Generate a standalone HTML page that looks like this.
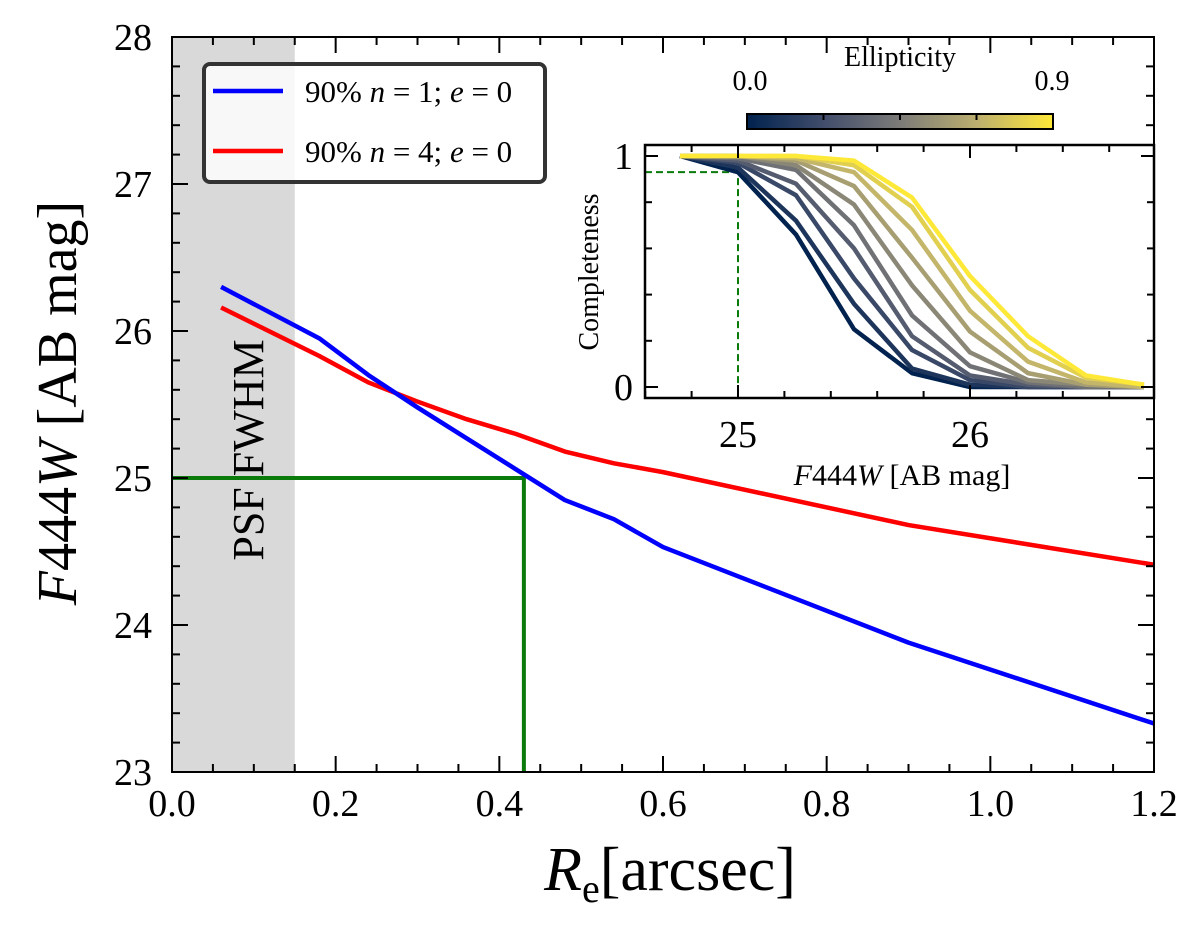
<!DOCTYPE html>
<html><head><meta charset="utf-8"><style>
body{margin:0;background:#fff;}
svg text{font-family:"Liberation Serif",serif;fill:#000;}
</style></head><body>
<svg id="chart" width="1200" height="940" xmlns="http://www.w3.org/2000/svg">
<g id="main"></g>
<g id="inset"></g>
</svg>
<script>
const NS="http://www.w3.org/2000/svg";
// main chart data
const reArcsec=[0.06,0.18,0.24,0.30,0.36,0.42,0.48,0.54,0.60,0.90,1.20];
const magN1=[26.30,25.95,25.70,25.48,25.27,25.06,24.85,24.72,24.53,23.88,23.33];
const magN4=[26.16,25.83,25.65,25.52,25.40,25.30,25.18,25.10,25.04,24.68,24.41];
const xTicks=[0.0,0.2,0.4,0.6,0.8,1.0,1.2];
const yTicks=[23,24,25,26,27,28];
const psfFwhm=0.15;
const limitMag=25, limitRe=0.43;
// inset data
const insetMag=[24.75,25.0,25.25,25.5,25.75,26.0,26.25,26.5,26.75];
const ellipticities=[0,0.1,0.2,0.3,0.4,0.5,0.6,0.7,0.8,0.9];
const comp0=[1,0.93,0.66,0.25,0.06,0,0,0,0];
const comp1=[1,0.95,0.72,0.36,0.08,0.01,0,0,0];
const comp2=[1,0.97,0.83,0.47,0.16,0.03,0,0,0];
const comp3=[1,0.98,0.88,0.60,0.22,0.05,0.01,0,0];
const comp4=[1,0.99,0.94,0.70,0.31,0.09,0.02,0,0];
const comp5=[1,1,0.96,0.79,0.44,0.15,0.03,0.01,0];
const comp6=[1,1,0.98,0.87,0.56,0.24,0.06,0.01,0];
const comp7=[1,1,0.99,0.93,0.68,0.33,0.11,0.02,0];
const comp8=[1,1,1,0.96,0.78,0.42,0.17,0.04,0.01];
const comp9=[1,1,1,0.98,0.82,0.48,0.22,0.05,0.01];
const completeness=[comp0,comp1,comp2,comp3,comp4,comp5,comp6,comp7,comp8,comp9];

function mk(tag,attrs,parent){const e=document.createElementNS(NS,tag);for(const k in attrs)e.setAttribute(k,attrs[k]);parent.appendChild(e);return e;}
const main=document.getElementById('main'), inset=document.getElementById('inset');
const L=172,R=1154,T=37,B=772;
const X=v=>L+(v-0)/1.2*(R-L);
const Y=v=>B-(v-23)/5*(B-T);

let e;
e=mk('rect',{x:L,y:T,width:X(psfFwhm)-L,height:B-T,fill:'#d9d9d9'},main);


e=mk('text',{x:0,y:0,'font-size':44,'text-anchor':'middle',transform:`translate(263,450) rotate(-90)`},main);
e.textContent='PSF FWHM';


e=mk('polyline',{points:`${L},${Y(limitMag)} ${X(limitRe)},${Y(limitMag)} ${X(limitRe)},${B}`,fill:'none',stroke:'#0a7a0a','stroke-width':4},main);


function line(xs,ys,col,name,fx,fy,parent,w){const p=xs.map((x,i)=>fx(x)+','+fy(ys[i])).join(' ');const el=mk('polyline',{points:p,fill:'none',stroke:col,'stroke-width':w,'stroke-linejoin':'round'},parent);return el;}
line(reArcsec,magN4,'#ff0000','line-n4',X,Y,main,4.5);
line(reArcsec,magN1,'#0000ff','line-n1',X,Y,main,4.5);
for(let i=0;i<=24;i++){const v=i*0.05;const len=(i%4==0)?16:8;
 mk('line',{x1:X(v),x2:X(v),y1:B,y2:B-len,stroke:'#000','stroke-width':2},main);
 mk('line',{x1:X(v),x2:X(v),y1:T,y2:T+len,stroke:'#000','stroke-width':2},main);}
for(let i=0;i<=25;i++){const v=23+i*0.2;const len=(i%5==0)?16:8;
 mk('line',{x1:L,x2:L+len,y1:Y(v),y2:Y(v),stroke:'#000','stroke-width':2},main);
 mk('line',{x1:R,x2:R-len,y1:Y(v),y2:Y(v),stroke:'#000','stroke-width':2},main);}
xTicks.forEach(v=>{const t=mk('text',{x:X(v),y:B+44,'font-size':38,'text-anchor':'middle'},main);t.textContent=v.toFixed(1);});
yTicks.forEach(v=>{const t=mk('text',{x:L-20,y:Y(v)+13,'font-size':38,'text-anchor':'end'},main);t.textContent=v;});
e=mk('rect',{x:L,y:T,width:R-L,height:B-T,fill:'none',stroke:'#000','stroke-width':2},main);

e=mk('text',{x:670,y:890,'font-size':62,'text-anchor':'middle'},main);
e.innerHTML='<tspan font-style="italic">R</tspan><tspan font-size="40" dy="12">e</tspan><tspan dy="-12">[arcsec]</tspan>';

e=mk('text',{x:0,y:0,'font-size':56,'text-anchor':'middle',transform:'translate(76,403) rotate(-90)'},main);
e.innerHTML='<tspan font-style="italic">F</tspan>444<tspan font-style="italic">W</tspan> [AB mag]';

e=mk('rect',{x:204,y:64,width:341,height:118,rx:6,fill:'rgba(255,255,255,0.8)',stroke:'#333','stroke-width':4},main);

[['#0000ff','1',91],['#ff0000','4',151]].forEach(([c,n,y])=>{
 mk('line',{x1:213,x2:283,y1:y,y2:y,stroke:c,'stroke-width':4.5},main);
 const t=mk('text',{x:305,y:y+11,'font-size':31},main);
 t.innerHTML=`90% <tspan font-style="italic">n</tspan> = ${n}; <tspan font-style="italic">e</tspan> = 0`;
 });
const iL=645,iR=1154,iT=145,iB=398;
const IX=v=>738+(v-25)*232;
const IY=v=>387-v*231;
mk('rect',{x:iL,y:iT,width:iR-iL,height:iB-iT,fill:'#fff'},inset);
const cividis=[[0,[0,34,78]],[0.25,[65,77,107]],[0.5,[124,123,120]],[0.75,[188,175,111]],[1,[254,232,56]]];
function cmap(t){for(let i=0;i<cividis.length-1;i++){const [a,ca]=cividis[i],[b,cb]=cividis[i+1];if(t<=b){const f=(t-a)/(b-a);return 'rgb('+ca.map((c,j)=>Math.round(c+(cb[j]-c)*f)).join(',')+')';}}return 'rgb(254,232,56)';}
mk('polyline',{points:`${iL},${IY(0.93)} ${IX(25)},${IY(0.93)} ${IX(25)},${IY(0)}`,fill:'none',stroke:'#0a7a0a','stroke-width':2,'stroke-dasharray':'7,4'},inset);
completeness.forEach((c,i)=>line(insetMag,c,cmap(ellipticities[i]/0.9),'completeness-e'+ellipticities[i],IX,IY,inset,4.5));
for(let i=0;i<=10;i++){const v=24.6+i*0.2;const x=IX(v);if(x<iL||x>iR)continue;const len=(Math.abs(v-Math.round(v))<0.01)?13:7;
 mk('line',{x1:x,x2:x,y1:iB,y2:iB-len,stroke:'#000','stroke-width':2},inset);
 mk('line',{x1:x,x2:x,y1:iT,y2:iT+len,stroke:'#000','stroke-width':2},inset);}
for(let i=0;i<=5;i++){const v=i*0.2;const len=(i==0||i==5)?13:7;
 mk('line',{x1:iL,x2:iL+len,y1:IY(v),y2:IY(v),stroke:'#000','stroke-width':2},inset);
 mk('line',{x1:iR,x2:iR-len,y1:IY(v),y2:IY(v),stroke:'#000','stroke-width':2},inset);}
mk('rect',{x:iL,y:iT,width:iR-iL,height:iB-iT,fill:'none',stroke:'#000','stroke-width':2.5},inset);
[25,26].forEach(v=>{const t=mk('text',{x:IX(v),y:447,'font-size':38,'text-anchor':'middle'},inset);t.textContent=v;});
[[1,'1'],[0,'0']].forEach(([v,s])=>{const t=mk('text',{x:iL-12,y:IY(v)+13,'font-size':38,'text-anchor':'end'},inset);t.textContent=s;});
e=mk('text',{x:902,y:485,'font-size':30,'text-anchor':'middle'},inset);
e.innerHTML='<tspan font-style="italic">F</tspan>444<tspan font-style="italic">W</tspan> [AB mag]';

e=mk('text',{x:0,y:0,'font-size':28,'text-anchor':'middle',transform:'translate(598,272) rotate(-90)'},inset);
e.textContent='Completeness';

const defs=mk('defs',{},inset);const g=mk('linearGradient',{id:'cv',x1:0,x2:1,y1:0,y2:0},defs);
cividis.forEach(([o,c])=>mk('stop',{offset:o,'stop-color':`rgb(${c.join(',')})`},g));
e=mk('rect',{x:747,y:114,width:306,height:15,fill:'url(#cv)',stroke:'#000','stroke-width':2},inset);

[0.25,0.5,0.75].forEach(f=>mk('line',{x1:747+306*f,x2:747+306*f,y1:114,y2:120,stroke:'#000','stroke-width':2},inset));
e=mk('text',{x:900,y:66,'font-size':28,'text-anchor':'middle'},inset);e.textContent='Ellipticity';

e=mk('text',{x:750,y:90,'font-size':28,'text-anchor':'middle'},inset);e.textContent='0.0';

e=mk('text',{x:1052,y:90,'font-size':28,'text-anchor':'middle'},inset);e.textContent='0.9';

</script>
</body></html>
